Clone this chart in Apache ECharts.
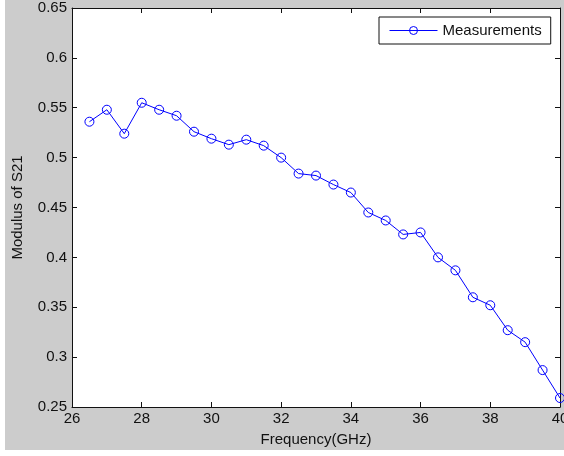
<!DOCTYPE html>
<html>
<head>
<meta charset="utf-8">
<script src="https://cdn.jsdelivr.net/npm/echarts@6/dist/echarts.min.js"></script>
<style>
  html, body { margin: 0; padding: 0; background: #ffffff; width: 564px; height: 456px; overflow: hidden; }
  #fig { position: absolute; left: 5px; top: 0; width: 559px; height: 450px; }
</style>
</head>
<body>
<div id="fig"></div>
<script>
// Measured |S21| versus frequency
const frequencyGHz = [26.5, 27, 27.5, 28, 28.5, 29, 29.5, 30, 30.5, 31, 31.5, 32, 32.5, 33,
                      33.5, 34, 34.5, 35, 35.5, 36, 36.5, 37, 37.5, 38, 38.5, 39, 39.5, 40];
const s21Modulus = [0.536, 0.548, 0.524, 0.555, 0.548, 0.542, 0.526, 0.519, 0.513, 0.518, 0.512, 0.500, 0.484, 0.482,
                    0.473, 0.465, 0.445, 0.437, 0.423, 0.425, 0.400, 0.387, 0.360, 0.352, 0.327, 0.315, 0.287, 0.259];
const seriesName = 'Measurements';
const xRange = [26, 40];
const xStep = 2;
const yRange = [0.25, 0.65];
const yStep = 0.05;

const FONT = '"Liberation Sans", Arial, sans-serif';
const INK = '#111111';
const BLUE = '#0000ff';

const chart = echarts.init(document.getElementById('fig'), null, { renderer: 'canvas' });

const axisBase = {
  type: 'value',
  axisLine: { show: true, onZero: false, lineStyle: { color: INK, width: 1 } },
  axisTick: { show: true, inside: true, length: 5, lineStyle: { color: INK, width: 1 } },
  splitLine: { show: false }
};

chart.setOption({
  animation: false,
  backgroundColor: '#cccccc',
  color: [BLUE],
  grid: {
    left: 67, right: 4, top: 8, bottom: 43,
    outerBoundsMode: 'none',
    containLabel: false,
    show: true, backgroundColor: '#ffffff', borderWidth: 0
  },
  legend: {
    data: [seriesName],
    left: 374, top: 17,
    padding: [6, 9, 6, 10],
    backgroundColor: '#ffffff',
    borderColor: INK, borderWidth: 1, borderRadius: 0,
    itemWidth: 48, itemHeight: 10,
    lineStyle: { width: 1, color: BLUE },
    itemStyle: { color: 'rgba(0,0,0,0)', borderColor: BLUE, borderWidth: 1 },
    textStyle: { fontFamily: FONT, fontSize: 15, color: INK }
  },
  xAxis: [
    Object.assign({}, axisBase, {
      position: 'bottom', min: xRange[0], max: xRange[1], interval: xStep,
      name: 'Frequency(GHz)', nameLocation: 'middle', nameGap: 25,
      nameTextStyle: { fontFamily: FONT, fontSize: 15, color: INK },
      axisLabel: { margin: 4, fontFamily: FONT, fontSize: 15, color: INK }
    }),
    Object.assign({}, axisBase, {
      position: 'top', min: xRange[0], max: xRange[1], interval: xStep,
      axisLabel: { show: false }
    })
  ],
  yAxis: [
    Object.assign({}, axisBase, {
      position: 'left', min: yRange[0], max: yRange[1], interval: yStep,
      name: 'Modulus of S21', nameLocation: 'middle', nameGap: 47,
      nameTextStyle: { fontFamily: FONT, fontSize: 15, color: INK },
      axisLabel: { margin: 5, fontFamily: FONT, fontSize: 15, color: INK }
    }),
    Object.assign({}, axisBase, {
      position: 'right', min: yRange[0], max: yRange[1], interval: yStep,
      axisLabel: { show: false }
    })
  ],
  series: [{
    name: seriesName,
    type: 'line',
    xAxisIndex: 0, yAxisIndex: 0,
    data: frequencyGHz.map((f, i) => [f, s21Modulus[i]]),
    symbol: 'circle',
    symbolSize: 9,
    itemStyle: { color: 'rgba(0,0,0,0)', borderColor: BLUE, borderWidth: 1 },
    lineStyle: { color: BLUE, width: 1 },
    emphasis: { disabled: true }
  }]
});
</script>
</body>
</html>
